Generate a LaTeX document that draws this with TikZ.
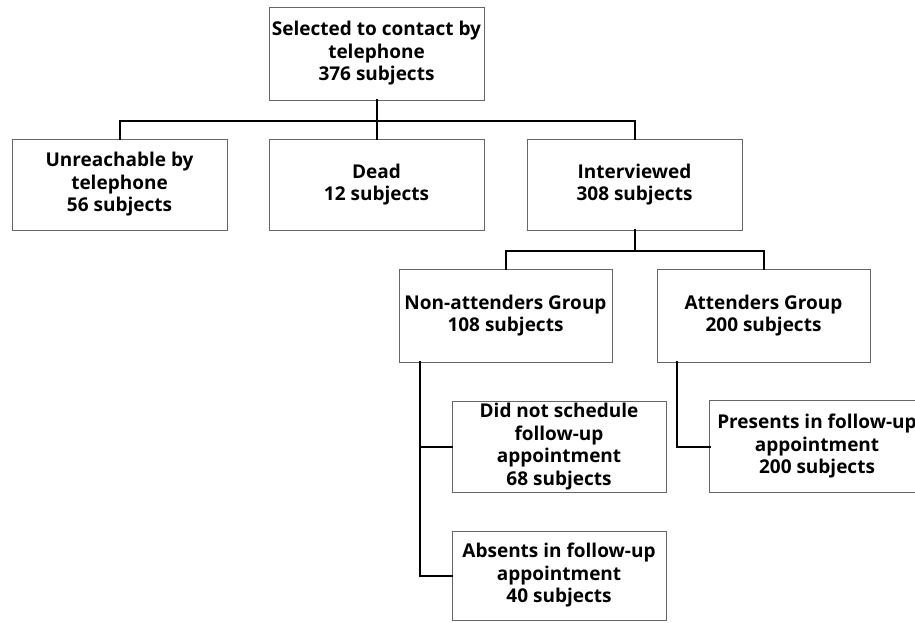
\documentclass[tikz,border=0pt]{standalone}
\usepackage{fontspec}
\setmainfont{Open Sans}
\begin{document}
\begin{tikzpicture}[x=1pt,y=-1pt,
  boxline/.style={draw=black!60, line width=0.8pt},
  boxtext/.style={inner sep=0pt, align=center,
    font=\bfseries\fontsize{19}{22.5}\selectfont},
  box/.style={boxline, boxtext},
  conn/.style={draw=black, line width=2pt, line cap=rect}]
\useasboundingbox (0,0) rectangle (915,622);
\clip (0,0) rectangle (915,622);
\fill[white] (0,0) rectangle (915,622);
\node[box, minimum width=215pt, minimum height=93pt] (top) at (376.5,53.5) {Selected to contact by\\telephone\\376 subjects};
\node[box, minimum width=215pt, minimum height=91pt] (unreach) at (119.5,184.5) {Unreachable by\\telephone\\56 subjects};
\node[box, minimum width=215pt, minimum height=91pt] (dead) at (376.5,184.5) {Dead\\12 subjects};
\node[box, minimum width=215pt, minimum height=91pt] (interv) at (634.5,184.5) {Interviewed\\308 subjects};
\node[box, minimum width=213pt, minimum height=93pt] (nonatt) at (505.5,315.5) {Non-attenders Group\\108 subjects};
\node[box, minimum width=213pt, minimum height=93pt] (att) at (763.5,315.5) {Attenders Group\\200 subjects};
\node[box, minimum width=214pt, minimum height=91pt] (didnot) at (559,446.5) {Did not schedule\\follow-up\\appointment\\68 subjects};
\node[box, minimum width=214pt, minimum height=89pt] (absents) at (559,575.5) {Absents in follow-up\\appointment\\40 subjects};
\node[boxtext, minimum width=214pt, minimum height=91pt] (presents) at (817,446.5) {Presents in follow-up\\appointment\\200 subjects};
\draw[boxline] ([xshift=40pt]presents.north east) -- (presents.north west) -- (presents.south west) -- ([xshift=40pt]presents.south east);
\coordinate (bus1) at (0,121);
\coordinate (bus2) at (0,251);
\coordinate (nadrop) at ([xshift=21pt]nonatt.south west);
\coordinate (adrop) at ([xshift=20pt]att.south west);
\draw[conn] (top.south) -- (dead.north);
\draw[conn] (unreach.north) -- (unreach.north |- bus1) -- (interv.north |- bus1) -- (interv.north);
\draw[conn] (interv.south) -- (interv.south |- bus2);
\draw[conn] (nonatt.north) -- (nonatt.north |- bus2) -- (att.north |- bus2) -- (att.north);
\draw[conn] (nadrop) |- (absents.west);
\draw[conn] (didnot.west) -- (nadrop |- didnot.west);
\draw[conn] (adrop) |- (presents.west);
\end{tikzpicture}
\end{document}
